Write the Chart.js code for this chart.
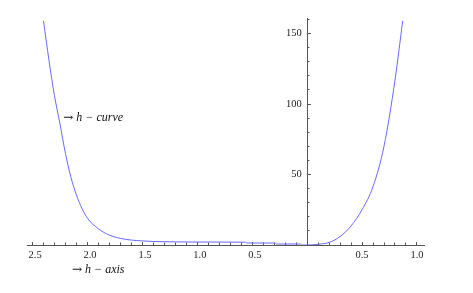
<!DOCTYPE html>
<html>
<head>
<meta charset="utf-8">
<script src="https://cdn.jsdelivr.net/npm/chart.js@4"></script>
<style>
  html, body { margin: 0; padding: 0; background: #fff; }
  canvas { display: block; }
</style>
</head>
<body>
<canvas id="hChart" width="473" height="293"></canvas>
<script>
// curve samples (h, value)
const hValues = [-2.4, -2.35, -2.3, -2.25, -2.2, -2.15, -2.1, -2.05, -2.0, -1.9, -1.8, -1.7, -1.6, -1.5, -1.4, -1.3, -1.2, -1.0, -0.8, -0.56, -0.55, -0.29, -0.28, -0.06, -0.05, 0, 0.05, 0.1, 0.2, 0.3, 0.4, 0.5, 0.6, 0.7, 0.8, 0.87];
const curveValues = [159, 131, 106, 86, 65, 48, 35.5, 26, 19, 11.5, 7, 4.7, 3.5, 2.9, 2.5, 2.3, 2.2, 2.1, 2.1, 2.0, 1.4, 1.4, 0.7, 0.7, 0, 0, 0.1, 0.5, 1.8, 6, 13.5, 25, 41.5, 70, 117, 159];

// tick labels
const xMajorTicks = [-2.5, -2.0, -1.5, -1.0, -0.5, 0.5, 1.0];
const yMajorTicks = [50, 100, 150];

const AXIS_COLOR = "#555";
const TICK_FONT = { family: "'Liberation Serif', 'DejaVu Serif', serif", size: 10.5 };

function minorTicks(from, to, step) {
  const out = [];
  for (let v = from; v <= to + 1e-9; v += step) out.push({ value: Math.round(v * 100) / 100 });
  return out;
}

// text notes "-> h - curve" and "-> h - axis"
const notesPlugin = {
  id: "notes",
  afterDraw(chart) {
    const { ctx, scales } = chart;
    const notes = [
      { x: -2.22, y: 90, text: "h \u2212 curve" },
      { x: -2.14, y: -17.5, text: "h \u2212 axis" }
    ];
    ctx.save();
    ctx.fillStyle = "#111";
    ctx.textBaseline = "middle";
    notes.forEach(n => {
      const px = scales.x.getPixelForValue(n.x);
      const py = scales.y.getPixelForValue(n.y);
      ctx.font = "12px 'DejaVu Serif', serif";
      ctx.fillText("\u2192", px, py);
      const w = ctx.measureText("\u2192").width + 3;
      ctx.font = "italic 12px 'Liberation Serif', serif";
      ctx.fillText(n.text, px + w, py);
    });
    ctx.restore();
  }
};

new Chart(document.getElementById("hChart"), {
  type: "scatter",
  data: {
    datasets: [{
      data: hValues.map((h, i) => ({ x: h, y: curveValues[i] })),
      showLine: true,
      borderColor: "#6868ff",
      borderWidth: 1,
      pointRadius: 0,
      cubicInterpolationMode: "monotone"
    }]
  },
  options: {
    responsive: false,
    animation: false,
    layout: { padding: { left: 27, right: 49, top: 18, bottom: 48 } },
    plugins: { legend: { display: false }, tooltip: { enabled: false } },
    scales: {
      x: {
        type: "linear",
        min: -2.55, max: 1.064,
        position: { y: 0 },
        afterBuildTicks: s => { s.ticks = xMajorTicks.map(v => ({ value: v })); },
        ticks: {
          autoSkip: false, maxRotation: 0, padding: 8, color: "#222", font: TICK_FONT,
          callback: v => (v < 0 ? "\u2002" : "") + Math.abs(v).toFixed(1)
        },
        grid: { drawOnChartArea: false, tickLength: -4, lineWidth: 1, color: AXIS_COLOR, tickColor: AXIS_COLOR },
        border: { color: AXIS_COLOR, width: 1 }
      },
      xMinor: {
        type: "linear",
        min: -2.55, max: 1.064,
        position: { y: 0 },
        afterBuildTicks: s => { s.ticks = minorTicks(-2.5, 1.0, 0.1); },
        ticks: { display: false },
        grid: { drawOnChartArea: false, tickLength: -2.5, lineWidth: 1, color: AXIS_COLOR, tickColor: AXIS_COLOR },
        border: { display: false }
      },
      y: {
        type: "linear",
        min: 0, max: 161,
        position: { x: 0 },
        afterBuildTicks: s => { s.ticks = yMajorTicks.map(v => ({ value: v })); },
        ticks: {
          autoSkip: false, padding: 4, color: "#222", font: TICK_FONT,
          callback: v => v + "\u2002"
        },
        grid: { drawOnChartArea: false, tickLength: -4, lineWidth: 1, color: AXIS_COLOR, tickColor: AXIS_COLOR },
        border: { color: AXIS_COLOR, width: 1 }
      },
      yMinor: {
        type: "linear",
        min: 0, max: 161,
        position: { x: 0 },
        afterBuildTicks: s => { s.ticks = minorTicks(10, 160, 10); },
        ticks: { display: false },
        grid: { drawOnChartArea: false, tickLength: -2.5, lineWidth: 1, color: AXIS_COLOR, tickColor: AXIS_COLOR },
        border: { display: false }
      }
    }
  },
  plugins: [notesPlugin]
});
</script>
</body>
</html>
